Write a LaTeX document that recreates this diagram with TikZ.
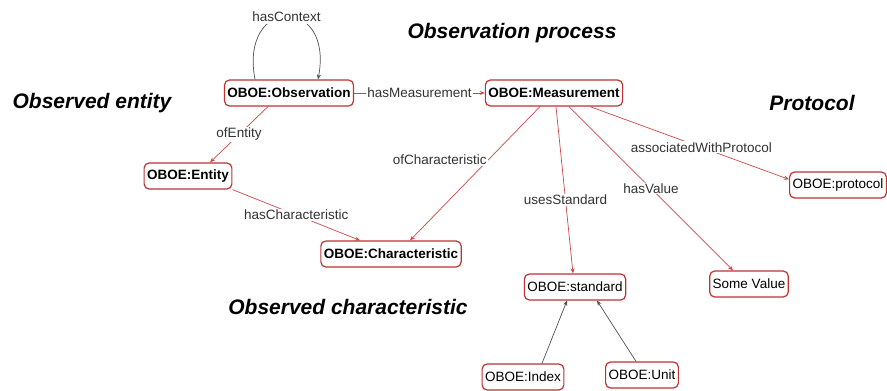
\documentclass[tikz,border=0pt]{standalone}
\usepackage{fontspec}
\setmainfont{Liberation Sans}
\usetikzlibrary{arrows.meta}
\definecolor{boxred}{RGB}{190,50,50}
\definecolor{edgered}{RGB}{205,70,70}
\definecolor{edgegray}{RGB}{80,80,80}
\tikzset{
  concept/.style={draw=boxred, line width=1.2pt, rounded corners=5pt, fill=white,
    minimum height=26pt, inner xsep=3pt, font=\fontsize{13.5}{15}\selectfont\bfseries},
  plain/.style={concept, font=\fontsize{13.5}{15}\selectfont},
  lbl/.style={fill=white, inner sep=1pt, text=black!80, font=\fontsize{13.5}{15}\selectfont},
  heading/.style={font=\fontsize{21}{24}\selectfont\bfseries\itshape},
  rel/.style={draw=edgered, line width=0.7pt, -{Stealth[length=5pt,width=4pt]}},
  sub/.style={draw=edgegray, line width=0.7pt, -{Stealth[length=5pt,width=4pt]}}
}
\begin{document}
\begin{tikzpicture}[x=1pt, y=-1pt]
  \useasboundingbox (0,0) rectangle (887,391);

  % Headings
  \node[heading] (hproc) at (512,33) {Observation process};
  \node[heading] (hent) at (92,103) {Observed entity};
  \node[heading] (hprot) at (812,103) {Protocol};
  \node[heading] (hchar) at (348,307) {Observed characteristic};

  % Concepts
  \node[concept] (obs) at (289,93) {OBOE:Observation};
  \node[concept] (meas) at (554,93) {OBOE:Measurement};
  \node[concept] (ent) at (188,176) {OBOE:Entity};
  \node[concept] (char) at (391,254) {OBOE:Characteristic};
  \node[plain] (prot) at (838,185) {OBOE:protocol};
  \node[plain] (std) at (575,287) {OBOE:standard};
  \node[plain] (val) at (749,284) {Some Value};
  \node[plain] (idx) at (523,377) {OBOE:Index};
  \node[plain] (unit) at (642,375) {OBOE:Unit};

  % Self loop
  \draw[sub] ([xshift=-34pt]obs.north) .. controls +(-16,-84) and +(16,-84) .. ([xshift=29pt]obs.north)
    node[lbl, pos=0.5, inner ysep=3pt] {hasContext};

  % Relations
  \draw[rel] (obs) -- (meas) node[lbl, midway] {hasMeasurement};
  \draw[rel] ([xshift=-21pt]obs.south) -- ([xshift=22pt]ent.north) node[lbl, midway] {ofEntity};
  \draw[rel] (ent.south east) -- ([xshift=-31pt]char.north) node[lbl, midway] {hasCharacteristic};
  \draw[rel] ([xshift=-14pt]meas.south) -- ([xshift=19pt]char.north)
    node[lbl, pos=0.4, anchor=east] {ofCharacteristic};
  \draw[rel] ([xshift=2pt]meas.south) -- ([xshift=-2pt]std.north) node[lbl, pos=0.56] {usesStandard};
  \draw[rel] ([xshift=15pt]meas.south) -- ([xshift=-16pt]val.north) node[lbl, pos=0.5] {hasValue};
  \draw[rel] ([xshift=36pt]meas.south) -- ([yshift=-8pt]prot.north west) node[lbl, pos=0.56] {associatedWithProtocol};

  % Standard parts
  \draw[sub] ([xshift=19pt]idx.north) -- ([xshift=-8pt]std.south);
  \draw[sub] ([xshift=-6pt]unit.north) -- ([xshift=22pt]std.south);
\end{tikzpicture}
\end{document}
